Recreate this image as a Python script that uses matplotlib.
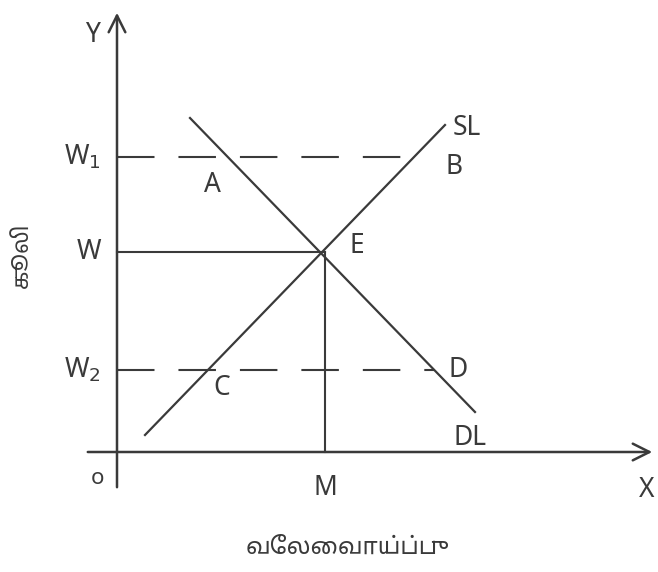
import numpy as np
import matplotlib.pyplot as plt

# wage levels on the Y axis
wage_labels = ['W$_1$', 'W', 'W$_2$']
wage_levels = [295, 200, 82]

# employment at equilibrium
m_employment = 208

# labour demand (DL) and supply (SL) lines, end points
dl_x = [73, 358]
dl_y = [334, 40]
sl_x = [28, 328]
sl_y = [17, 327]

ink = '#3a3a3a'
plt.rcParams['font.family'] = ['Noto Sans Tamil', 'Lohit Tamil', 'DejaVu Sans']
plt.rcParams['mathtext.fontset'] = 'dejavusans'

fig = plt.figure(figsize=(6.58, 5.72), dpi=100)
ax = fig.add_axes([0, 0, 1, 1])
ax.set_xlim(-117, 541)
ax.set_ylim(-120, 452)
ax.axis('off')

# axes with open arrow heads
ax.annotate('', xy=(538, 0), xytext=(-32, 0),
            arrowprops=dict(arrowstyle='->', color=ink, lw=1.8, mutation_scale=30))
ax.annotate('', xy=(0, 442), xytext=(0, -38),
            arrowprops=dict(arrowstyle='->', color=ink, lw=1.8, mutation_scale=30))

# demand and supply
ax.plot(dl_x, dl_y, color=ink, lw=1.6)
ax.plot(sl_x, sl_y, color=ink, lw=1.6)

def on_line(xs, ys, y):
    k = (ys[1] - ys[0]) / (xs[1] - xs[0])
    return xs[0] + (y - ys[0]) / k

w1, w, w2 = wage_levels
dash = (0, (18, 11.5))
# W1 dashed to B, W2 dashed to D
ax.plot([0, on_line(sl_x, sl_y, w1)], [w1, w1], color=ink, lw=1.5, ls=dash)
ax.plot([0, on_line(dl_x, dl_y, w2)], [w2, w2], color=ink, lw=1.5, ls=dash)
# equilibrium
ax.plot([0, m_employment], [w, w], color=ink, lw=1.5)
ax.plot([m_employment, m_employment], [w, 0], color=ink, lw=1.5)

fs = 19
for lab, lv in zip(wage_labels, wage_levels):
    ax.text(-16, lv, lab, fontsize=fs, ha='right', va='center', color=ink)

ax.text(-25, 417, 'Y', fontsize=fs, ha='center', va='center', color=ink)
ax.text(530, -38, 'X', fontsize=fs, ha='center', va='center', color=ink)
ax.text(-20, -26, 'o', fontsize=fs - 3, ha='center', va='center', color=ink)
ax.text(m_employment, -36, 'M', fontsize=fs, ha='center', va='center', color=ink)

ax.text(on_line(dl_x, dl_y, w1) - 15, w1 - 28, 'A', fontsize=fs, ha='center', va='center', color=ink)
ax.text(on_line(sl_x, sl_y, w1) + 40, w1 - 10, 'B', fontsize=fs, ha='center', va='center', color=ink)
ax.text(m_employment + 32, w + 6, 'E', fontsize=fs, ha='center', va='center', color=ink)
ax.text(on_line(sl_x, sl_y, w2) + 14, w2 - 18, 'C', fontsize=fs, ha='center', va='center', color=ink)
ax.text(on_line(dl_x, dl_y, w2) + 24, w2, 'D', fontsize=fs, ha='center', va='center', color=ink)
ax.text(sl_x[1] + 22, sl_y[1] - 3, 'SL', fontsize=fs, ha='center', va='center', color=ink)
ax.text(dl_x[1] - 5, 14, 'DL', fontsize=fs, ha='center', va='center', color=ink)

# axis titles
ax.text(-95, 197, 'கூலி', fontsize=16, rotation=90, ha='center', va='center', color=ink)
ax.text(231, -96, 'வேலைவாய்ப்பு', fontsize=17, ha='center', va='center', color=ink)

fig.savefig('out.png', dpi=100)
